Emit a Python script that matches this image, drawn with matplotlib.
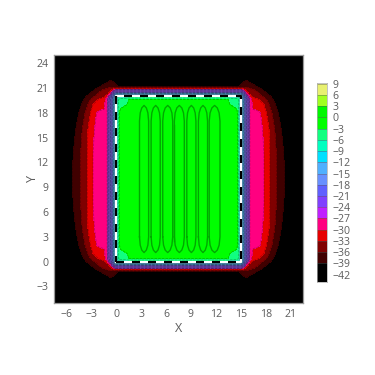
import numpy as np
import matplotlib
matplotlib.use("Agg")
import matplotlib.pyplot as plt

plt.rcParams["font.family"] = ["Open Sans", "DejaVu Sans"]

GREY = "#5c5c5c"

# one quarter of the field (the map is close to mirrored)
# dist_x = distance from x=7.5, dist_y = distance from y=10
dist_x = [0, 6, 7.1, 7.25, 7.4, 7.6, 7.8, 8.0, 8.2, 8.4, 8.6, 9.0, 9.5, 10.3, 11.0, 11.8, 12.8, 13.5, 15]
dist_y = [0, 3, 6, 8, 8.5, 9, 9.6, 9.8, 10, 10.15, 10.3, 10.4, 10.5, 10.65, 10.8, 10.87, 10.95, 11.05, 11.2, 11.5, 11.9, 12.3, 15]
field = [
    [-1, -1, -3, -6, -9, -12, -15, -18, -21, -24, -27, -27.7, -28.5, -30, -33, -36, -39, -41, -42],
    [-1, -1, -3, -6, -9, -12, -15, -18, -21, -24, -27, -27.7, -28.5, -30, -33, -36, -39.4, -41, -42],
    [-1, -1, -3, -6, -9, -12, -15, -18, -21, -24, -27, -27.7, -28.6, -30.4, -33.4, -36.9, -40.5, -42, -42],
    [-1, -1, -3, -6, -9, -12, -15, -18, -21, -24, -27, -27.8, -28.7, -31.5, -35, -38.2, -42, -42, -42],
    [-1, -1, -3.2, -6, -9, -12, -15, -18, -21, -24, -27, -30.5, -31, -32.3, -35.7, -38.8, -42, -42, -42],
    [-1, -2.9, -3.5, -6, -9, -12, -15, -18, -21, -24, -27.2, -31.2, -31.8, -33, -36.4, -39.4, -42, -42, -42],
    [-3, -3, -4.5, -6.5, -9, -12, -15, -18, -21, -24.5, -27.5, -32, -32.5, -34.7, -37.5, -40.5, -42, -42, -42],
    [-6, -6, -7, -7.5, -9.5, -12.5, -15.5, -18.5, -22, -25.5, -29, -32.6, -33.5, -35.7, -38, -41, -42, -42, -42],
    [-9, -9, -9.5, -9.8, -10, -13, -16.5, -20, -24, -27, -31, -33.9, -34.7, -36.3, -38.7, -41.5, -42, -42, -42],
    [-12, -12, -12, -12, -12, -14, -18, -22, -26, -30, -32.5, -34.4, -35.2, -37, -39.3, -42, -42, -42, -42],
    [-15, -15, -15, -15, -15, -16, -20, -24, -29, -33, -33.5, -34.8, -35.4, -37.5, -40.2, -42, -42, -42, -42],
    [-18, -18, -18, -18, -18, -18, -22, -25.5, -30, -33.2, -33.8, -35, -35.6, -37.9, -40.5, -42, -42, -42, -42],
    [-21, -21, -21, -21, -21, -21, -24, -27, -31.5, -33.5, -34.2, -35.2, -35.7, -38.2, -41, -42, -42, -42, -42],
    [-24, -24, -24, -24, -24, -24, -27, -30, -33, -34.2, -34.7, -35.5, -36.3, -39, -42, -42, -42, -42, -42],
    [-27, -27, -27, -27, -27, -27, -30, -33, -34.5, -35, -35.2, -35.8, -36.9, -39.6, -42, -42, -42, -42, -42],
    [-30, -30, -30, -30, -30, -30, -32, -34, -35, -35.4, -35.6, -36.2, -37.1, -39.9, -42, -42, -42, -42, -42],
    [-33, -33, -33, -33, -33, -33, -34.5, -35, -35.5, -35.8, -36, -36.5, -37.4, -40.4, -42, -42, -42, -42, -42],
    [-36, -36, -36, -36, -36, -35.5, -36, -36, -36, -36, -36.4, -37, -38.3, -41, -42, -42, -42, -42, -42],
    [-39, -39, -39, -39, -38.5, -37.5, -37, -36.5, -36.8, -37, -37.3, -37.9, -39.2, -42, -42, -42, -42, -42, -42],
    [-41.5, -41.5, -41.5, -41.5, -41, -39, -38, -37.5, -37.8, -38, -38.2, -39.3, -41, -42, -42, -42, -42, -42, -42],
    [-42, -42, -42, -42, -42, -41, -40, -39.2, -39, -39.5, -40, -41, -42, -42, -42, -42, -42, -42, -42],
    [-42] * 19,
    [-42] * 19,
]

levels = [-44, -39, -36, -33, -30, -27, -24, -21, -18, -15, -12, -9, -6, -3, 0, 3, 6, 9]
band_colors = [
    "#000000", "#400000", "#800000", "#e60000", "#ff0080", "#c020ff", "#8040ff", "#6060ff",
    "#6890ff", "#50b0ff", "#00e0ff", "#00ffc0", "#10ff80", "#00ff00", "#00f800", "#a0ff20", "#e8f070",
]
# the thin bands by the wall look muddier on the map than on the colorbar
map_colors = [
    "#000000", "#400000", "#800000", "#e60000", "#ff0080", "#8030a0", "#6a40a8", "#5a50a8",
    "#4c60a8", "#3c80a8", "#20a8b0", "#20e0b0", "#10ff80", "#00ff00", "#00f800", "#a0ff20", "#e8f070",
]
cbar_ticks = [-42, -39, -36, -33, -30, -27, -24, -21, -18, -15, -12, -9, -6, -3, 0, 3, 6, 9]

# long closed loops inside the green area
loop_left = [2.8, 4.2, 5.6, 7.0, 8.5, 9.9, 11.2]
loop_right = [3.9, 5.3, 6.8, 8.2, 9.6, 11.0, 12.5]
loop_shape = [0, 0, 0.08, 0.25, 0.5, 0.75, 0.92, 1, 1, 0.92, 0.75, 0.5, 0.25, 0.08, 0]
loop_y = [3, 17, 18, 18.6, 18.9, 18.6, 18, 17, 3, 2, 1.4, 1.1, 1.4, 2, 3]
mid_line_x = [6.9, 6.9]
mid_line_y = [2.5, 16.5]

rect_x = [0, 15, 15, 0, 0]
rect_y = [0, 0, 20, 20, 0]

#################################################################
# mirror the quarter into the full map

q = np.array(field)
dx = np.array(dist_x)
dy = np.array(dist_y)
x = np.concatenate([7.5 - dx[:0:-1], 7.5 + dx])
y = np.concatenate([10 - dy[:0:-1], 10 + dy])
z = np.vstack([q[:0:-1], q])
z = np.hstack([z[:, :0:-1], z])

fig = plt.figure(figsize=(3.75, 3.75), dpi=100)
ax = fig.add_axes([54 / 375, 72 / 375, 249 / 375, 248 / 375])

ax.contourf(x, y, z, levels=levels, colors=map_colors)
ax.contour(x, y, z, levels=levels[1:-1], colors="black", linewidths=0.5, alpha=0.3)

for left, right in zip(loop_left, loop_right):
    xs = [left + s * (right - left) for s in loop_shape]
    ax.plot(xs, loop_y, color="#00a800", lw=1)
ax.plot(mid_line_x, mid_line_y, color="#00a800", lw=1)

ax.plot(rect_x, rect_y, color="white", lw=1.6)
ax.plot(rect_x, rect_y, color="black", lw=1.6, dashes=(3.6, 3.6))

ax.set_xlim(-7.5, 22.5)
ax.set_ylim(-5, 25)
ax.set_xticks(range(-6, 22, 3))
ax.set_yticks(range(-3, 25, 3))
ax.tick_params(length=0, labelsize=7.6, labelcolor=GREY, pad=4)
for s in ax.spines.values():
    s.set_color("#999999")
    s.set_linewidth(0.9)
ax.set_xlabel("X", fontsize=9, color=GREY, labelpad=2)
ax.set_ylabel("Y", fontsize=9, color=GREY, labelpad=-2)

#################################################################
# colorbar

cax = fig.add_axes([317 / 375, (375 - 282) / 375, 10 / 375, 199 / 375])
cax.pcolormesh([0, 1], levels, np.arange(len(band_colors)).reshape(-1, 1),
               cmap=matplotlib.colors.ListedColormap(band_colors), vmin=-0.5, vmax=len(band_colors) - 0.5)
cax.hlines(levels[1:], 0, 1, color="#555555", lw=0.5, alpha=0.6)
cax.set_xlim(0, 1)
cax.set_ylim(-44, 9.2)
cax.set_xticks([])
cax.yaxis.tick_right()
cax.set_yticks(cbar_ticks)
cax.tick_params(length=0, labelsize=7.6, labelcolor=GREY, pad=4)
for s in cax.spines.values():
    s.set_color("#aaaaaa")
    s.set_linewidth(0.5)

fig.savefig("out.png", dpi=100)
